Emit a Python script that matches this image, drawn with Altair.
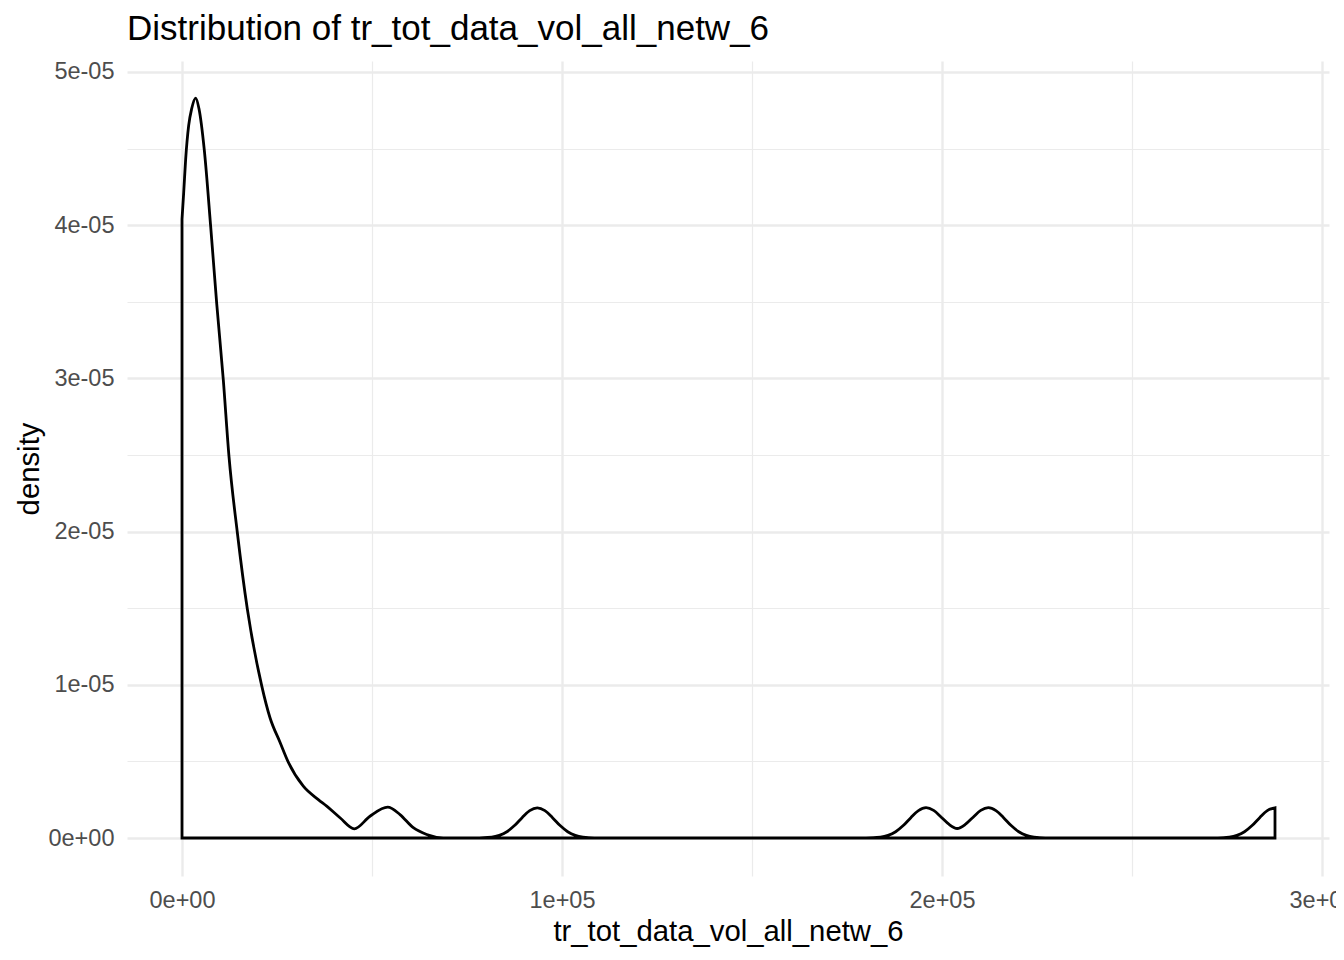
import altair as alt
import pandas as pd

TITLE = "Distribution of tr_tot_data_vol_all_netw_6"
X_TITLE = "tr_tot_data_vol_all_netw_6"
Y_TITLE = "density"

# density curve (x in data units, density)
x_values = [
    0, 440, 960, 1750, 2540, 3600, 4470, 5870, 7550, 9130,
    10870, 12370, 14550, 17180, 20970, 23160, 25790, 27970, 31920, 35870,
    38080, 41580, 45340, 49470, 54130, 57370, 60870, 64390, 68760, 75000,
    81500, 83500, 85500, 87500, 89500, 91500, 93500, 95500, 97500, 99500,
    101500, 103500, 105500, 108500, 140000,
    180000, 183800, 185800, 187800, 189800, 191800, 193800, 195800, 197800, 199800,
    201800, 204000, 206200, 208200, 210200, 212200, 214200, 216200, 218200, 220200,
    222200, 224200, 227200, 250000,
    272600, 275600, 277600, 279600, 281600, 283600, 285600, 287630,
]
density = [
    40.4e-6, 42.1e-6, 44.3e-6, 46.5e-6, 47.6e-6, 48.3e-6, 47.6e-6, 44.9e-6, 39.9e-6, 34.9e-6,
    29.9e-6, 24.9e-6, 19.96e-6, 14.96e-6, 9.95e-6, 7.85e-6, 6.25e-6, 4.95e-6, 3.38e-6, 2.51e-6,
    2.08e-6, 1.32e-6, 0.60e-6, 1.42e-6, 2.01e-6, 1.53e-6, 0.67e-6, 0.23e-6, 0.01e-6, 0.0,
    0.06e-6, 0.17e-6, 0.41e-6, 0.81e-6, 1.33e-6, 1.79e-6, 1.97e-6, 1.79e-6, 1.33e-6, 0.81e-6,
    0.41e-6, 0.17e-6, 0.06e-6, 0.01e-6, 0.0,
    0.01e-6, 0.06e-6, 0.17e-6, 0.41e-6, 0.81e-6, 1.33e-6, 1.79e-6, 1.98e-6, 1.80e-6, 1.36e-6,
    0.90e-6, 0.62e-6, 0.90e-6, 1.36e-6, 1.80e-6, 1.98e-6, 1.79e-6, 1.33e-6, 0.81e-6, 0.41e-6,
    0.17e-6, 0.06e-6, 0.01e-6, 0.0,
    0.01e-6, 0.06e-6, 0.17e-6, 0.41e-6, 0.81e-6, 1.33e-6, 1.79e-6, 1.97e-6,
]

x_major = [0, 100000, 200000, 300000]
x_major_labels = ["0e+00", "1e+05", "2e+05", "3e+05"]
x_minor = [50000, 150000, 250000]
y_major = [0.0, 1e-05, 2e-05, 3e-05, 4e-05, 5e-05]
y_major_labels = ["0e+00", "1e-05", "2e-05", "3e-05", "4e-05", "5e-05"]
y_minor = [5e-06, 1.5e-05, 2.5e-05, 3.5e-05, 4.5e-05]

x_domain = [-14474, 301842]
y_domain = [-0.248e-05, 5.0718e-05]

FONT = "Liberation Sans"


def label_expr(vals, labels, tol):
    expr = "''"
    for v, lab in reversed(list(zip(vals, labels))):
        expr = f"abs(datum.value - ({v!r})) < {tol} ? '{lab}' : ({expr})"
    return expr


def minor_test(minor):
    return "indexof([" + ",".join(repr(v) for v in minor) + "], datum.value) >= 0"


df = pd.DataFrame({"x": x_values, "density": density})

x_axis = alt.Axis(
    values=sorted(x_major + x_minor),
    labelExpr=label_expr(x_major, x_major_labels, 1),
    labelFlush=False,
    labelOverlap=False,
    ticks=False,
    tickSize=0,
    domain=False,
    labelFont=FONT,
    labelFontSize=23.5,
    labelColor="#4D4D4D",
    labelPadding=31,
    labelBaseline="alphabetic",
    gridColor="#EBEBEB",
    gridWidth={"condition": {"test": minor_test(x_minor), "value": 1.2}, "value": 2.4},
    title=X_TITLE,
    titleFont=FONT,
    titleFontSize=29.3,
    titleFontWeight="normal",
    titleColor="#000000",
    titleX=601,
    titleY=64,
    titleBaseline="alphabetic",
    titleAlign="center",
)

y_axis = alt.Axis(
    values=sorted(y_major + y_minor),
    labelExpr=label_expr(y_major, y_major_labels, 1e-9),
    labelFlush=False,
    labelOverlap=False,
    ticks=False,
    tickSize=0,
    domain=False,
    labelFont=FONT,
    labelFontSize=23.5,
    labelColor="#4D4D4D",
    labelPadding=13,
    labelAlign="right",
    labelBaseline="middle",
    gridColor="#EBEBEB",
    gridWidth={"condition": {"test": minor_test(y_minor), "value": 1.2}, "value": 2.4},
    title=Y_TITLE,
    titleFont=FONT,
    titleFontSize=29.3,
    titleFontWeight="normal",
    titleColor="#000000",
    titleAngle=270,
    titleX=-83,
    titleY=407.5,
    titleBaseline="bottom",
    titleAlign="center",
)

chart = (
    alt.Chart(df)
    .mark_area(
        fillOpacity=0,
        stroke="#000000",
        strokeWidth=2.8,
        interpolate="monotone",
        clip=True,
    )
    .encode(
        x=alt.X("x:Q", scale=alt.Scale(domain=x_domain, nice=False, zero=False), axis=x_axis),
        y=alt.Y("density:Q", scale=alt.Scale(domain=y_domain, nice=False, zero=False), axis=y_axis),
        y2=alt.datum(0),
    )
    .properties(
        width=1202,
        height=815,
        autosize=alt.AutoSizeParams(type="none"),
        padding={"left": 119, "top": 53, "right": 7, "bottom": 80},
        title=alt.TitleParams(
            text=TITLE,
            anchor="start",
            frame="group",
            font=FONT,
            fontSize=35,
            fontWeight="normal",
            color="#000000",
            offset=13,
        ),
    )
    .configure(font=FONT, background="white")
    .configure_view(stroke=None)
)

chart.save("out.html", embed_options={"renderer": "svg", "actions": False})
